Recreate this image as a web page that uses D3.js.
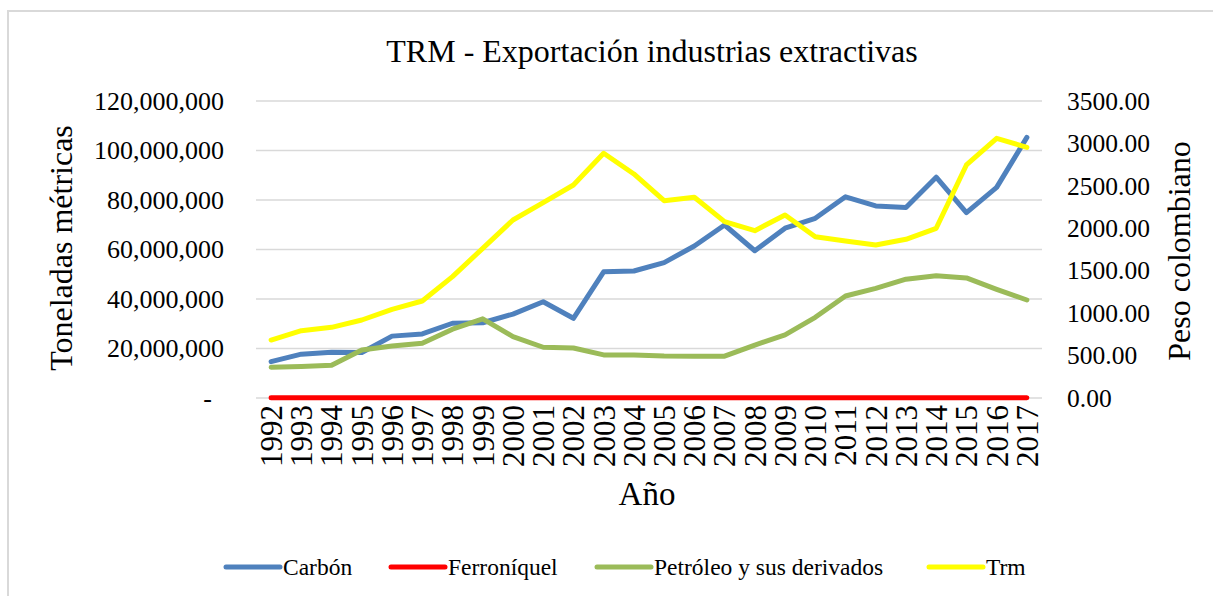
<!DOCTYPE html>
<html>
<head>
<meta charset="utf-8">
<script src="https://cdn.jsdelivr.net/npm/d3@7"></script>
<style>
  body { margin: 0; background: #fff; }
  svg text { font-family: "Liberation Serif", "Times New Roman", serif; fill: #000; }
</style>
</head>
<body>
<svg></svg>
<script>
let years = ['1992','1993','1994','1995','1996','1997','1998','1999','2000','2001','2002','2003','2004',
  '2005','2006','2007','2008','2009','2010','2011','2012','2013','2014','2015','2016','2017']

// toneladas
let carbon = [14.7e6, 17.7e6, 18.5e6, 18.4e6, 25.0e6, 25.9e6, 30.2e6, 30.4e6, 33.9e6, 38.9e6, 32.2e6, 51.0e6, 51.3e6,
  54.7e6, 61.4e6, 69.9e6, 59.5e6, 68.6e6, 72.6e6, 81.3e6, 77.6e6, 77.0e6, 89.2e6, 74.9e6, 85.1e6, 105.3e6]
let ferroniquel = [0.08e6, 0.09e6, 0.09e6, 0.09e6, 0.1e6, 0.1e6, 0.11e6, 0.12e6, 0.13e6, 0.13e6, 0.14e6, 0.15e6, 0.15e6,
  0.15e6, 0.15e6, 0.15e6, 0.13e6, 0.15e6, 0.14e6, 0.12e6, 0.14e6, 0.14e6, 0.13e6, 0.12e6, 0.11e6, 0.10e6]
let petroleo = [12.4e6, 12.7e6, 13.2e6, 19.4e6, 21.0e6, 22.1e6, 27.8e6, 32.0e6, 24.8e6, 20.5e6, 20.2e6, 17.4e6, 17.4e6,
  17.0e6, 16.9e6, 16.9e6, 21.4e6, 25.5e6, 32.6e6, 41.2e6, 44.3e6, 48.0e6, 49.4e6, 48.5e6, 43.9e6, 39.6e6]
// pesos
let trm = [683, 793, 833, 919, 1045, 1143, 1430, 1764, 2098, 2302, 2510, 2884, 2640,
  2325, 2365, 2078, 1972, 2157, 1901, 1850, 1803, 1870, 2000, 2746, 3060, 2954]

let leftTicks = [0, 20e6, 40e6, 60e6, 80e6, 100e6, 120e6]
let rightTicks = [0, 500, 1000, 1500, 2000, 2500, 3000, 3500]

let series = [
  { name: 'Carbón', values: carbon, color: '#4f81bd', axis: 'left' },
  { name: 'Ferroníquel', values: ferroniquel, color: '#ff0000', axis: 'left' },
  { name: 'Petróleo y sus derivados', values: petroleo, color: '#9bbb59', axis: 'left' },
  { name: 'Trm', values: trm, color: '#ffff00', axis: 'right' }
]

let width = 1213
let height = 596
let plotLeft = 256
let plotRight = 1042
let plotTop = 101
let plotBottom = 398
let serif = '"Liberation Serif", "Times New Roman", serif'

let svg = d3.select('svg').attr('width', width).attr('height', height)

svg.append('rect')
  .attr('x', 8).attr('y', 11)
  .attr('width', 1300).attr('height', 700)
  .attr('fill', 'none').attr('stroke', '#d9d9d9').attr('stroke-width', 2)

let xScale = d3.scaleBand().domain(years).range([plotLeft, plotRight])
let xPos = (d) => xScale(d) + xScale.bandwidth() / 2

let yLeft = d3.scaleLinear().domain([0, 120e6]).range([plotBottom, plotTop])
let yRight = d3.scaleLinear().domain([0, 3500]).range([plotBottom, plotTop])

// grid
svg.append('g')
  .selectAll('line')
  .data(leftTicks)
  .enter()
  .append('line')
  .attr('x1', plotLeft).attr('x2', plotRight)
  .attr('y1', (d) => yLeft(d)).attr('y2', (d) => yLeft(d))
  .attr('stroke', '#d9d9d9').attr('stroke-width', 1.5)

let leftAxis = d3.axisLeft(yLeft)
  .tickValues(leftTicks)
  .tickSize(0).tickPadding(0)
  .tickFormat((d) => d === 0 ? '-' : d3.format(',')(d))

let gl = svg.append('g')
  .attr('transform', 'translate(224, 0)')
  .call(leftAxis)
gl.select('.domain').remove()
gl.selectAll('text')
  .attr('font-size', 26)
  .attr('font-family', serif)
  .attr('dx', (d) => d === 0 ? -12 : 0)

let rightAxis = d3.axisRight(yRight)
  .tickValues(rightTicks)
  .tickSize(0).tickPadding(0)
  .tickFormat(d3.format('.2f'))

let gr = svg.append('g')
  .attr('transform', 'translate(1067, 0)')
  .call(rightAxis)
gr.select('.domain').remove()
gr.selectAll('text')
  .attr('font-size', 25.5)
  .attr('font-family', serif)

let xAxis = d3.axisBottom(xScale).tickSize(0).tickPadding(0)
let gx = svg.append('g')
  .attr('transform', 'translate(0, ' + (plotBottom + 7) + ')')
  .call(xAxis)
gx.select('.domain').remove()
gx.selectAll('text')
  .attr('font-size', 31)
  .attr('font-family', serif)
  .attr('transform', 'rotate(-90)')
  .attr('text-anchor', 'end')
  .attr('x', 0).attr('y', 0)
  .attr('dy', '0.35em')

// lines
let lineLeft = d3.line().x((d, i) => xPos(years[i])).y((d) => yLeft(d))
let lineRight = d3.line().x((d, i) => xPos(years[i])).y((d) => yRight(d))

svg.selectAll('path.serie')
  .data(series)
  .enter()
  .append('path')
  .attr('class', 'serie')
  .attr('d', (s) => s.axis === 'left' ? lineLeft(s.values) : lineRight(s.values))
  .attr('fill', 'none')
  .attr('stroke', (s) => s.color)
  .attr('stroke-width', 5)
  .attr('stroke-linejoin', 'round')
  .attr('stroke-linecap', 'round')

// titles
svg.append('text')
  .attr('x', 652).attr('y', 62)
  .attr('text-anchor', 'middle')
  .attr('font-family', serif)
  .attr('font-size', 32)
  .text('TRM - Exportación industrias extractivas')

svg.append('text')
  .attr('transform', 'translate(72, 248) rotate(-90)')
  .attr('text-anchor', 'middle')
  .attr('font-family', serif)
  .attr('font-size', 32)
  .text('Toneladas métricas')

svg.append('text')
  .attr('transform', 'translate(1190, 251) rotate(-90)')
  .attr('text-anchor', 'middle')
  .attr('font-family', serif)
  .attr('font-size', 32)
  .text('Peso colombiano')

svg.append('text')
  .attr('x', 647).attr('y', 505)
  .attr('text-anchor', 'middle')
  .attr('font-family', serif)
  .attr('font-size', 33)
  .text('Año')

// legend
let legendX = [226, 391, 597, 929]
let legend = svg.selectAll('g.legend')
  .data(series)
  .enter()
  .append('g')
  .attr('class', 'legend')
  .attr('transform', (s, i) => 'translate(' + legendX[i] + ', 567)')

legend.append('line')
  .attr('x1', 0).attr('x2', 54)
  .attr('stroke', (s) => s.color)
  .attr('stroke-width', 5)
  .attr('stroke-linecap', 'round')

legend.append('text')
  .attr('x', 57).attr('dy', '0.35em')
  .attr('font-family', serif)
  .attr('font-size', 23.5)
  .text((s) => s.name)
</script>
</body>
</html>
